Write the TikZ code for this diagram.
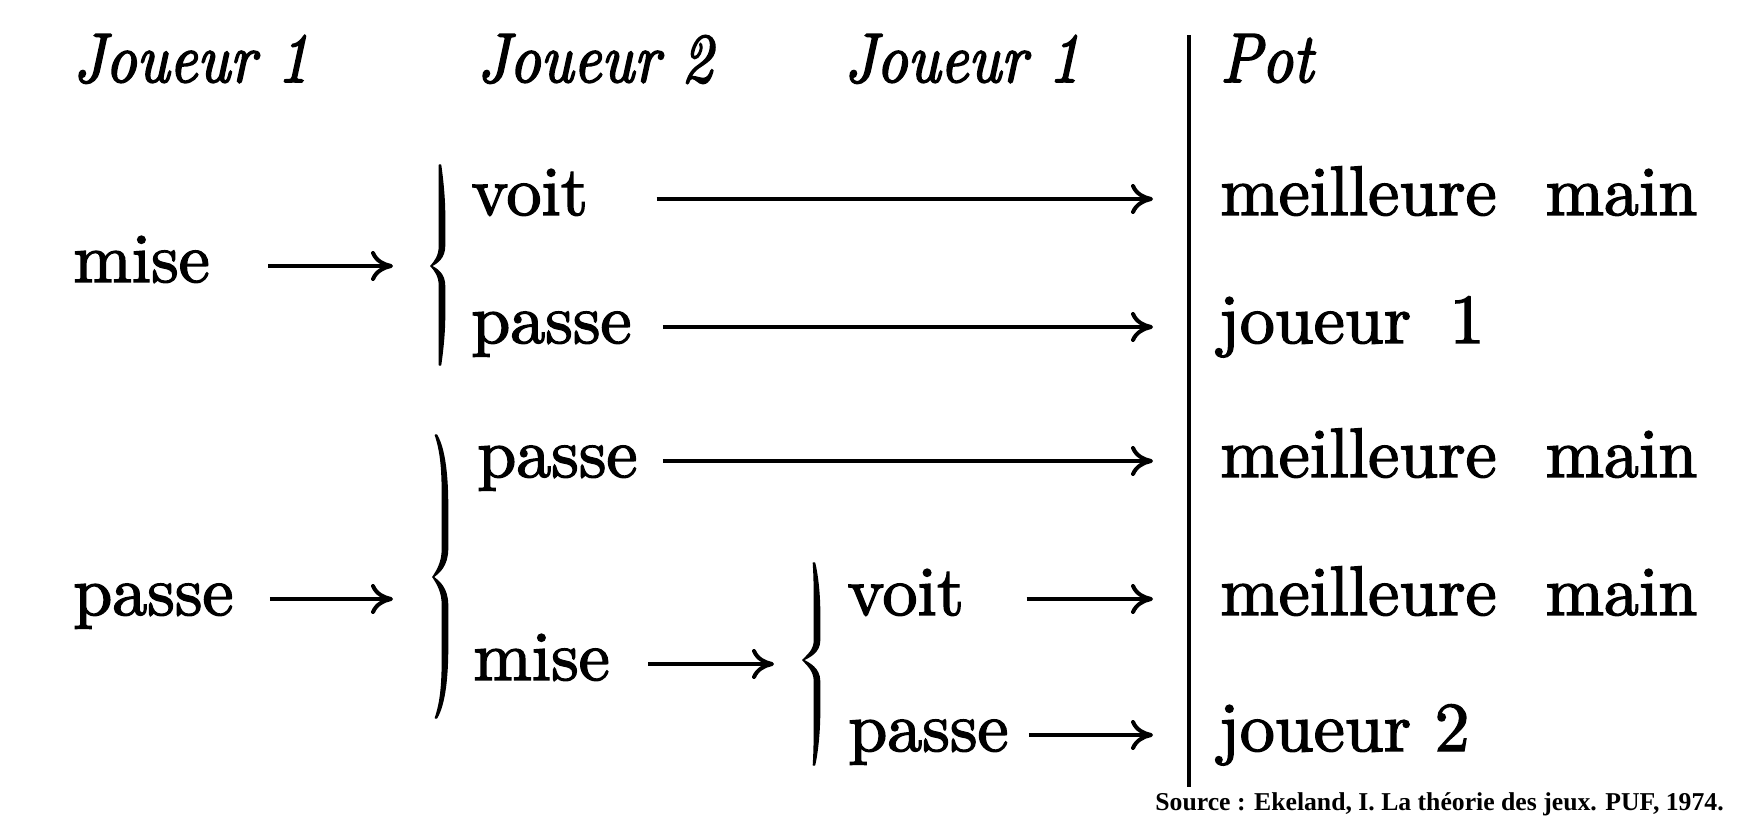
\documentclass[tikz,border=0pt]{standalone}
\usepackage{fontspec}
\usetikzlibrary{arrows.meta}
\newfontfamily\bodyfont{lmroman10-regular.otf}[FakeBold=2]
\newfontfamily\headfont{lmroman10-italic.otf}[FakeBold=2.6]
\newfontfamily\srcfont{Liberation Serif}
\newcommand\HScale[1]{\scalebox{0.87}[1]{#1}}
% half of a tapered brace: #1 tip x, #2 end y, #3 tip y, #4 end x offset, #5 spine x offset
\newcommand\HalfBrace[5]{%
  \pgfmathsetmacro\hbL{#3-#2}%
  \pgfmathsetmacro\hbA{#2+0.15*\hbL}\pgfmathsetmacro\hbB{#2+0.3*\hbL}%
  \pgfmathsetmacro\hbC{#2+0.5*\hbL}\pgfmathsetmacro\hbD{#3-0.2*\hbL}%
  \pgfmathsetmacro\hbE{#3-0.1*\hbL}\pgfmathsetmacro\hbF{#3-0.045*\hbL}%
  \pgfmathsetmacro\hbG{#3-0.03*\hbL}\pgfmathsetmacro\hbH{#3-0.08*\hbL}%
  \pgfmathsetmacro\hbI{#2+0.1*\hbL}%
  \pgfmathsetmacro\hbXl{#1+#5-2.6}\pgfmathsetmacro\hbXr{#1+#5+2.6}%
  \pgfmathsetmacro\hbXs{#1+#5}%
  \pgfmathsetmacro\hbXe{#1+#4-0.6}\pgfmathsetmacro\hbXf{#1+#4+0.6}%
  \pgfmathsetmacro\hbTa{#1+4}\pgfmathsetmacro\hbTb{#1+6}%
  \filldraw[bfill] (\hbXe,#2) .. controls (\hbXl,\hbA) and (\hbXl,\hbB) .. (\hbXl,\hbC)
    -- (\hbXl,\hbD) .. controls (\hbXl,\hbE) and (\hbTa,\hbF) .. (#1,#3)
    .. controls (\hbTb,\hbG) and (\hbXr,\hbH) .. (\hbXr,\hbD)
    -- (\hbXr,\hbC) .. controls (\hbXr,\hbB) and (\hbXs,\hbI) .. (\hbXf,#2) -- cycle;
}
\newcommand\TBrace[6]{\HalfBrace{#1}{#2}{#3}{#5}{#6}\HalfBrace{#1}{#4}{#3}{#5}{#6}}
\tikzset{
  txt/.style={inner sep=0pt, anchor=base west, font=\bodyfont\fontsize{35pt}{42pt}\selectfont},
  hd/.style={inner sep=0pt, anchor=base west, font=\headfont\fontsize{35pt}{42pt}\selectfont},
  src/.style={inner sep=0pt, anchor=base west, font=\srcfont\bfseries\fontsize{12.85pt}{15pt}\selectfont},
  arr/.style={line width=2pt, -{Computer Modern Rightarrow[length=11pt,width=15pt,line width=2pt]}},
  bfill/.style={line width=0.7pt, line join=round},
  vline/.style={line width=2.2pt},
}
\begin{document}
\begin{tikzpicture}[x=0.5pt,y=-0.5pt]
\useasboundingbox (0,0) rectangle (1759,816);
% headings
\node[hd] (H1) at (73,82) {\HScale{Joueur 1}};
\node[hd] (H2) at (477,82) {\HScale{Joueur 2}};
\node[hd] (H3) at (844,82) {\HScale{Joueur 1}};
\node[hd] (pot) at (1220,82) {\HScale{Pot}};
% vertical rule
\coordinate (vt) at (1189,35);
\coordinate (vb) at (1189,787);
\draw[vline] (vt) -- (vb);
% first column
\node[txt] (miseA) at (73,282) {mise};
\node[txt] (passeA) at (73,615) {passe};
% second column
\node[txt] (voitB) at (471,215) {voit};
\node[txt] (passeB) at (471,343) {passe};
\node[txt] (passeC) at (477,477) {passe};
\node[txt] (miseC) at (473,680) {mise};
% third column
\node[txt] (voitD) at (847,615) {voit};
\node[txt] (passeD) at (848,751) {passe};
% pot column
\node[txt] (r1) at (1220,215) {meilleure\hspace{0.7em}main};
\node[txt] (r2) at (1218,343) {joueur\hspace{0.55em}1};
\node[txt] (r3) at (1220,477) {meilleure\hspace{0.7em}main};
\node[txt] (r4) at (1220,615) {meilleure\hspace{0.7em}main};
\node[txt] (r5) at (1218,751) {joueur 2};
% braces
\coordinate (b1) at (431,266);
\coordinate (b2) at (433,577);
\coordinate (b3) at (803,660);
\TBrace{431}{165}{266}{365}{9}{11}
\TBrace{433}{435}{577}{718}{3}{12}
\TBrace{803}{563}{660}{765}{11}{14}
% arrows
\draw[arr, shorten <=29pt, shorten >=19pt] ([yshift=8pt]miseA.base east) -- ([yshift=8pt]miseA.base east -| b1);
\draw[arr, shorten <=18pt, shorten >=20pt] ([yshift=8pt]passeA.base east) -- ([yshift=8pt]passeA.base east -| b2);
\draw[arr, shorten <=19pt, shorten >=14.5pt] ([yshift=8pt]miseC.base east) -- ([yshift=8pt]miseC.base east -| b3);
\draw[arr, shorten <=34pt, shorten >=18pt] ([yshift=8pt]voitB.base east) -- ([yshift=8pt]voitB.base east -| vt);
\draw[arr, shorten <=15.5pt, shorten >=18pt] ([yshift=8pt]passeB.base east) -- ([yshift=8pt]passeB.base east -| vt);
\draw[arr, shorten <=12.5pt, shorten >=18pt] ([yshift=8pt]passeC.base east) -- ([yshift=8pt]passeC.base east -| vt);
\draw[arr, shorten <=31pt, shorten >=18pt] ([yshift=8pt]voitD.base east) -- ([yshift=8pt]voitD.base east -| vt);
\draw[arr, shorten <=10pt, shorten >=18pt] ([yshift=8pt]passeD.base east) -- ([yshift=8pt]passeD.base east -| vt);
% source
\node[src] (source) at (1155,810) {Source : Ekeland, I. La théorie des jeux. PUF, 1974.};
\end{tikzpicture}
\end{document}
